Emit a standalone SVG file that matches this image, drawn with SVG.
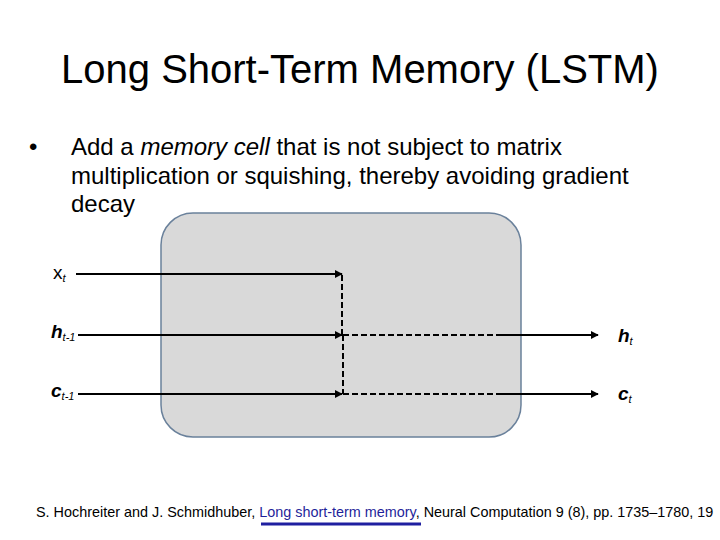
<svg xmlns="http://www.w3.org/2000/svg" width="720" height="540" viewBox="0 0 720 540">
<style>
text{font-family:"Liberation Sans",Arial,sans-serif;fill:#000}
.title{font-size:40px}
.body{font-size:24px}
.lbl{font-size:19px;font-style:italic;font-weight:bold}
.sub{font-size:11px;font-weight:normal}
.foot{font-size:14.4px}
.solid{stroke:#000;stroke-width:2;fill:none}
.dash{stroke:#000;stroke-width:2;fill:none;stroke-dasharray:6 3}
</style>
<defs>
<marker id="ah" viewBox="0 0 10 10" refX="9" refY="5" markerWidth="4" markerHeight="4" orient="auto">
<path d="M0,0 L10,5 L0,10 z" fill="#000"/>
</marker>
</defs>
<rect width="720" height="540" fill="#fff"/>
<text class="title" x="360" y="83" text-anchor="middle">Long Short-Term Memory (LSTM)</text>
<g id="bullet">
<text class="body" x="29" y="155">•</text>
<text class="body" x="71" y="155">Add a <tspan style="font-style:italic">memory cell</tspan> that is not subject to matrix</text>
<text class="body" x="71" y="184">multiplication or squishing, thereby avoiding gradient</text>
<text class="body" x="71" y="212">decay</text>
</g>
<g id="cell">
<rect x="161" y="213" width="360" height="224" rx="32" ry="32" fill="#d9d9d9" stroke="#6a819b" stroke-width="1.5"/>
</g>
<g id="connectors">
<line class="solid" x1="76" y1="274" x2="342" y2="274" marker-end="url(#ah)"/>
<line class="solid" x1="78" y1="335" x2="342" y2="335" marker-end="url(#ah)"/>
<line class="solid" x1="78" y1="394" x2="342" y2="394" marker-end="url(#ah)"/>
<line class="dash" x1="342" y1="275" x2="342" y2="335"/>
<line class="dash" x1="343" y1="335" x2="343" y2="394"/>
<line class="dash" x1="343" y1="335" x2="497" y2="335"/>
<line class="dash" x1="343" y1="394" x2="497" y2="394"/>
<line class="solid" x1="497" y1="335" x2="598" y2="335" marker-end="url(#ah)"/>
<line class="solid" x1="497" y1="394" x2="598" y2="394" marker-end="url(#ah)"/>
</g>
<g id="label-xt"><text class="lbl" x="53" y="279" style="font-style:normal;font-weight:normal">x<tspan class="sub" dy="3" style="font-style:italic">t</tspan></text></g>
<g id="label-ht1"><text class="lbl" x="51" y="338">h<tspan class="sub" dy="3">t-1</tspan></text></g>
<g id="label-ct1"><text class="lbl" x="51" y="397">c<tspan class="sub" dy="3">t-1</tspan></text></g>
<g id="label-ht"><text class="lbl" x="618" y="342">h<tspan class="sub" dy="3">t</tspan></text></g>
<g id="label-ct"><text class="lbl" x="618" y="400">c<tspan class="sub" dy="3">t</tspan></text></g>
<g id="footer">
<text class="foot" x="36" y="517">S. Hochreiter and J. Schmidhuber, <tspan fill="#1f1f9a">Long short-term memory</tspan>, Neural Computation 9 (8), pp. 1735–1780, 19</text>
<line x1="261" y1="524" x2="421" y2="524" stroke="#1f1fa0" stroke-width="3"/>
</g>
</svg>
